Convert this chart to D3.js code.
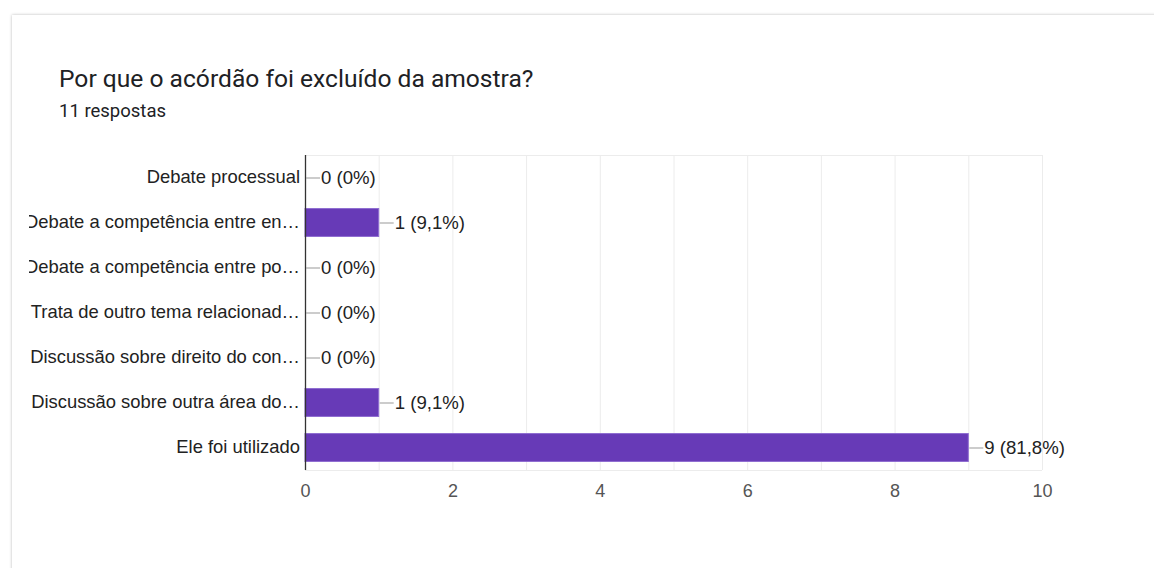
<!DOCTYPE html>
<html>
<head>
<meta charset="utf-8">
<script src="https://cdn.jsdelivr.net/npm/d3@7"></script>
<style>
  html, body { margin: 0; padding: 0; background: #ffffff; }
  svg { display: block; }
</style>
</head>
<body>
<svg id="chart" width="1154" height="568"></svg>
<script>
// Survey responses: reasons a ruling was left out of the sample
const categories = [
  "Debate processual",
  "Debate a competência entre en…",
  "Debate a competência entre po…",
  "Trata de outro tema relacionad…",
  "Discussão sobre direito do con…",
  "Discussão sobre outra área do…",
  "Ele foi utilizado"
];
const counts = [0, 1, 0, 0, 0, 1, 9];
const totalResponses = 11;
const xTicks = [0, 2, 4, 6, 8, 10];
const gridSteps = [1, 2, 3, 4, 5, 6, 7, 8, 9, 10];
const titleText = "Por que o acórdão foi excluído da amostra?";
const subtitleText = "11 respostas";

const svg = d3.select("#chart");

// card with soft shadow
const defs = svg.append("defs");
const shadow = defs.append("filter").attr("id", "cardShadow")
  .attr("x", "-5%").attr("y", "-5%").attr("width", "110%").attr("height", "110%");
shadow.append("feDropShadow")
  .attr("dx", 0).attr("dy", 0).attr("stdDeviation", 1.6)
  .attr("flood-color", "#000").attr("flood-opacity", 0.28);

svg.append("rect")
  .attr("x", 12).attr("y", 15).attr("width", 1200).attr("height", 600)
  .attr("fill", "#ffffff").attr("filter", "url(#cardShadow)");

// labels that run past the card's inner edge are cut off
defs.append("clipPath").attr("id", "labelClip")
  .attr("clipPathUnits", "userSpaceOnUse")
  .append("rect").attr("x", 29).attr("y", 0).attr("width", 1125).attr("height", 568);

// heading
svg.append("text")
  .attr("x", 59).attr("y", 87)
  .attr("font-family", "Roboto, sans-serif").attr("font-size", 24.6)
  .attr("fill", "#202124")
  .text(titleText);
svg.append("text")
  .attr("x", 59).attr("y", 117)
  .attr("font-family", "Roboto, sans-serif").attr("font-size", 18.5)
  .attr("fill", "#202124")
  .text(subtitleText);

// plot area
const plot = { left: 305, right: 1042, top: 155, bottom: 470 };

const x = d3.scaleLinear().domain([0, 10]).range([plot.left, plot.right]);
const y = d3.scaleBand().domain(categories).range([plot.top, plot.bottom])
  .paddingInner(0.38).paddingOuter(0.19);

const chartFont = "'Liberation Sans', Arial, sans-serif";

// vertical gridlines at every unit
svg.append("g").selectAll("line").data(gridSteps).join("line")
  .attr("x1", d => x(d) + 0.5).attr("x2", d => x(d) + 0.5)
  .attr("y1", plot.top).attr("y2", plot.bottom)
  .attr("stroke", "#ececec").attr("stroke-width", 1);

// top and bottom frame lines
svg.append("line")
  .attr("x1", plot.left).attr("x2", plot.right)
  .attr("y1", plot.top + 0.5).attr("y2", plot.top + 0.5)
  .attr("stroke", "#ececec");
svg.append("line")
  .attr("x1", plot.left).attr("x2", plot.right)
  .attr("y1", plot.bottom + 0.5).attr("y2", plot.bottom + 0.5)
  .attr("stroke", "#ececec");

// x axis tick labels
const xAxis = d3.axisBottom(x).tickValues(xTicks).tickSize(0).tickPadding(14)
  .tickFormat(d3.format("d"));
const xg = svg.append("g").attr("transform", `translate(0,${plot.bottom})`).call(xAxis);
xg.select(".domain").remove();
xg.selectAll("text")
  .attr("font-family", chartFont).attr("font-size", 18).attr("fill", "#555");

// bars
svg.append("g").selectAll("rect").data(categories).join("rect")
  .attr("x", x(0))
  .attr("y", d => y(d))
  .attr("width", (d, i) => x(counts[i]) - x(0))
  .attr("height", y.bandwidth())
  .attr("fill", "#673ab7")
  .attr("stroke", (d, i) => counts[i] > 0 ? "#8e6cd0" : "none")
  .attr("stroke-width", 1);

// category labels (clipped at the card's inner edge)
const yAxis = d3.axisLeft(y).tickSize(0).tickPadding(5);
const yg = svg.append("g").attr("clip-path", "url(#labelClip)")
  .append("g").attr("transform", `translate(${plot.left},0)`)
  .call(yAxis);
yg.select(".domain").remove();
yg.selectAll("text")
  .attr("font-family", chartFont).attr("font-size", 18.4).attr("fill", "#222");

// baseline
svg.append("line")
  .attr("x1", plot.left + 0.5).attr("x2", plot.left + 0.5)
  .attr("y1", plot.top).attr("y2", plot.bottom)
  .attr("stroke", "#333").attr("stroke-width", 1.3);

// value annotations with short leader lines
const pct = v => {
  const p = Math.round(v / totalResponses * 1000) / 10;
  return (Number.isInteger(p) ? String(p) : p.toFixed(1)).replace(".", ",") + "%";
};
const ann = svg.append("g");
categories.forEach((c, i) => {
  const x0 = x(counts[i]) + 1;
  const cy = y(c) + y.bandwidth() / 2;
  ann.append("line")
    .attr("x1", x0).attr("x2", x0 + 14)
    .attr("y1", cy + 0.5).attr("y2", cy + 0.5)
    .attr("stroke", "#999").attr("stroke-width", 1);
  ann.append("text")
    .attr("x", x0 + 15).attr("y", cy).attr("dy", "0.35em")
    .attr("font-family", chartFont).attr("font-size", 18.6).attr("fill", "#222")
    .text(`${counts[i]} (${pct(counts[i])})`);
});
</script>
</body>
</html>
